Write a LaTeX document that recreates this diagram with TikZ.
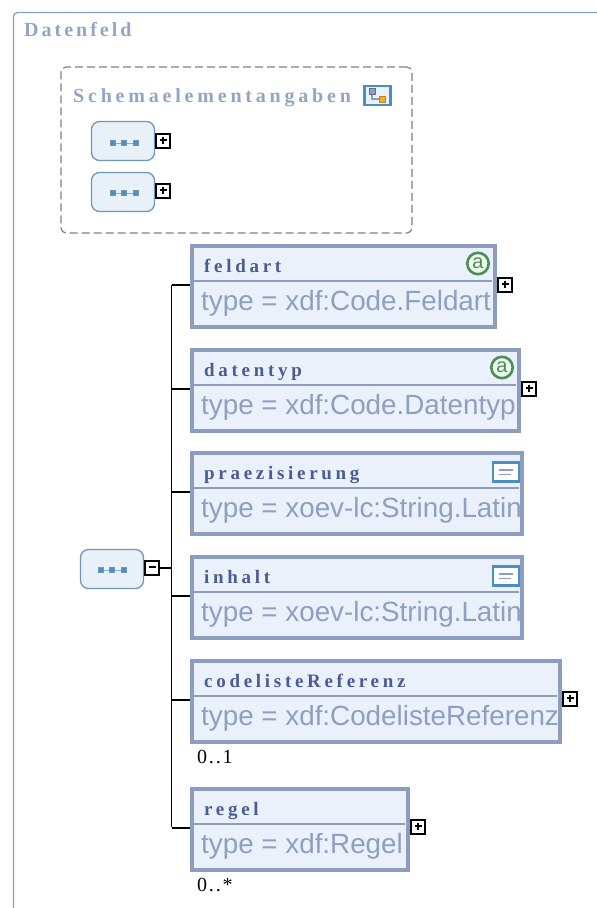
\documentclass[tikz,border=0pt]{standalone}
\usepackage{fontspec}
\setmainfont{Liberation Serif}
\newfontfamily\spacedfont[LetterSpace=19.5]{Liberation Serif}
\newfontfamily\titlefont[LetterSpace=15]{Liberation Serif}
\newfontfamily\schemafont[LetterSpace=19]{Liberation Serif}
\newfontfamily\cardfont[LetterSpace=9]{Liberation Serif}
\newfontfamily\typefont[WordSpace=0.5]{Liberation Sans}
\newfontfamily\badgefont{Liberation Sans}
\usetikzlibrary{positioning, calc}
\definecolor{framecol}{HTML}{8C9DBF}
\definecolor{boxfill}{HTML}{EAF1FB}
\definecolor{namecol}{HTML}{4B5B93}
\definecolor{typecol}{HTML}{8E9FC0}
\definecolor{titlecol}{HTML}{93A5C6}
\definecolor{seqline}{HTML}{7097BA}
\definecolor{seqfill}{HTML}{E8F0F8}
\definecolor{iconblue}{HTML}{4A8FBF}
\definecolor{badgegreen}{HTML}{4E8C5A}
\tikzset{x=1pt, y=-1pt, % Coordinates are read as reference pixels
elembox/.style={ % Fill of each element, the frame comes later
inner sep=0pt, minimum height=85pt, fill=boxfill, anchor=north west},
elemname/.style={
inner sep=0pt, anchor=base west, text=namecol, font=\spacedfont\bfseries\fontsize{19}{21}\selectfont},
elemtype/.style={
inner sep=0pt, anchor=base west, text=typecol, font=\typefont\fontsize{27.8}{30}\selectfont},
title/.style={
inner sep=0pt, anchor=base west, text=titlecol, font=\titlefont\bfseries\fontsize{20}{22}\selectfont},
schematitle/.style={
inner sep=0pt, anchor=base west, text=titlecol, font=\schemafont\bfseries\fontsize{20}{22}\selectfont},
card/.style={
inner sep=0pt, anchor=base west, text=black, font=\cardfont\fontsize{20}{22}\selectfont},
seqbox/.style={ % Rounded compositor
draw=seqline, fill=seqfill, line width=1.3pt, rounded corners=8pt,
minimum width=63pt, minimum height=39pt, inner sep=0pt},
toggle/.style={ % Little expand box, without the sign
draw=black, fill=white, line width=1.9pt, minimum size=14pt, inner sep=0pt},
treeline/.style={draw=black, line width=1.7pt},
seqicon/.pic={ % Three little squares in a row
\draw[iconblue!70, line width=0.9pt] (-10,0) -- (10,0);
\foreach \dx in {-11.5,0,11.5}
  \draw[fill=iconblue, draw=seqline, line width=0.5pt] (\dx-2.6,-2.6) rectangle (\dx+2.6,2.6);
},
attricon/.pic={ % Green attribute badge
\draw[fill=green!8!white, draw=badgegreen, line width=2.6pt] (0,0) circle (10.7);
\node[inner sep=0pt, text=badgegreen, font=\badgefont\fontsize{20}{20}\selectfont] (-a) at (0,-0.5) {a};
},
noteicon/.pic={ % Blue note with two lines
\draw[fill=white, draw=iconblue, line width=2.4pt] (-13,-9.5) rectangle (13,9.5);
\draw[framecol, line width=1.6pt] (-7,-2) -- (7,-2) (-7,2.5) -- (5,2.5);
},
schemaicon/.pic={ % Tree sign of the compartment
\draw[fill=boxfill, draw=iconblue, line width=2.4pt] (-13,-9.5) rectangle (13,9.5);
\draw[framecol, line width=1.4pt] (-5.5,-1.5) -- (-5.5,3.5) -- (1.5,3.5);
\draw[fill=framecol, draw=framecol!70!black, line width=0.8pt] (-8.5,-7.5) rectangle (-2.5,-1.5);
\draw[fill=orange!60!yellow, draw=orange!60!black!70, line width=0.8pt] (1.5,0.5) rectangle (7.5,6.5);
}}
\newcommand{\togglesign}[2]{% name of the toggle, with the bar only or the bar and stem
\draw[black, line width=1.7pt] ([xshift=-3.5pt,yshift=1pt]#1.center) -- ([xshift=3.5pt,yshift=1pt]#1.center);
\ifnum#2=1 \draw[black, line width=1.7pt] ([yshift=4.5pt]#1.center) -- ([yshift=-2.5pt]#1.center);\fi}

\begin{document}
\begin{tikzpicture}
    \useasboundingbox (0,0) rectangle (597,908);
    % outer frame, runs off the page
    \coordinate (framebottom) at (13.5,908);
    \coordinate (frameright) at (597,12.5);
    \draw[framecol, line width=1.3pt, rounded corners=4pt] (framebottom) -- (13.5,12.5) -- (frameright);
    \node[title] (datenfeld) at (24,36) {Datenfeld};

    % compartment
    \node[draw=gray, dashed, dash pattern=on 8pt off 4pt, line width=1.2pt, rounded corners=5pt, minimum width=351pt, minimum height=166pt, inner sep=0pt] (schema) at (236.5,150) {};
    \node[schematitle] (schemaname) at (73,102) {Schemaelementangaben};
    \pic at (377.5,95.5) {schemaicon};
    \node[seqbox] (seqa) at (123,141) {};
    \node[seqbox] (seqb) at (123,192) {};
    \pic at (124,143) {seqicon};
    \pic at (124,193) {seqicon};
    \node[toggle] (seqaplus) at (163,141) {};
    \node[toggle] (seqbplus) at (163,191) {};
    \togglesign{seqaplus}{1}
    \togglesign{seqbplus}{1}

    % elements
    \node[elembox, minimum width=307pt] (feldart) at (190,244) {};
    \node[elembox, minimum width=331pt] (datentyp) at (190,348) {};
    \node[elembox, minimum width=334pt] (praezisierung) at (190,451) {};
    \node[elembox, minimum width=334pt] (inhalt) at (190,555) {};
    \node[elembox, minimum width=372pt] (codeliste) at (190,659) {};
    \node[elembox, minimum width=220pt] (regel) at (190,787) {};

    \node[elemname] (feldartname) at (204,272) {feldart};
    \node[elemname] (datentypname) at (204,376) {datentyp};
    \node[elemname] (praezisierungname) at (204,479) {praezisierung};
    \node[elemname] (inhaltname) at (204,583) {inhalt};
    \node[elemname] (codelistename) at (204,687) {codelisteReferenz};
    \node[elemname] (regelname) at (204,815) {regel};

    \node[elemtype] (feldarttype) at (201,310) {type = xdf:Code.Feldart};
    \node[elemtype] (datentyptype) at (201,414) {type = xdf:Code.Datentyp};
    \node[elemtype] (praezisierungtype) at (201,517) {type = xoev-lc:String.Latin};
    \node[elemtype] (inhalttype) at (201,621) {type = xoev-lc:String.Latin};
    \node[elemtype] (codelistetype) at (201,725) {type = xdf:CodelisteReferenz};
    \node[elemtype] (regeltype) at (201,853) {type = xdf:Regel};

    % frames over the text, long types run into them
    \foreach \elem in {feldart,datentyp,praezisierung,inhalt,codeliste,regel} {
      \draw[framecol, line width=4pt] ([shift={(2pt,-2pt)}]\elem.north west) rectangle ([shift={(-2pt,2pt)}]\elem.south east);
      \draw[framecol, line width=1.3pt] ([yshift=-37pt]\elem.north west) -- ([shift={(-5pt,-37pt)}]\elem.north east);
    }

    \pic at (478,263.5) {attricon};
    \pic at (502,367.5) {attricon};
    \pic at (506,472) {noteicon};
    \pic at (506,576) {noteicon};

    \node[toggle] (feldartplus) at (505,285) {};
    \node[toggle] (datentypplus) at (529,389) {};
    \node[toggle] (codelisteplus) at (570,699) {};
    \node[toggle] (regelplus) at (418,827) {};
    \togglesign{feldartplus}{1}
    \togglesign{datentypplus}{1}
    \togglesign{codelisteplus}{1}
    \togglesign{regelplus}{1}

    \node[card] (codelistecard) at (197,763) {0..1};
    \node[card] (regelcard) at (197,891) {0..*};

    % main sequence and its tree
    \node[seqbox] (seqmain) at (112,569) {};
    \pic at (112,570) {seqicon};
    \node[toggle] (seqminus) at (152,568) {};
    \togglesign{seqminus}{0}
    \coordinate (treetop) at (171.5,285);
    \coordinate (treebottom) at (171.5,827);
    \draw[treeline] (treetop) -- (treebottom);
    \draw[treeline] (seqminus.east) -- (seqminus.east -| treetop);
    \foreach \elem in {feldart,datentyp,praezisierung,inhalt,codeliste,regel}
      \draw[treeline] ([yshift=1.5pt]\elem.west -| treetop) -- ([yshift=1.5pt]\elem.west);
\end{tikzpicture}
\end{document}
